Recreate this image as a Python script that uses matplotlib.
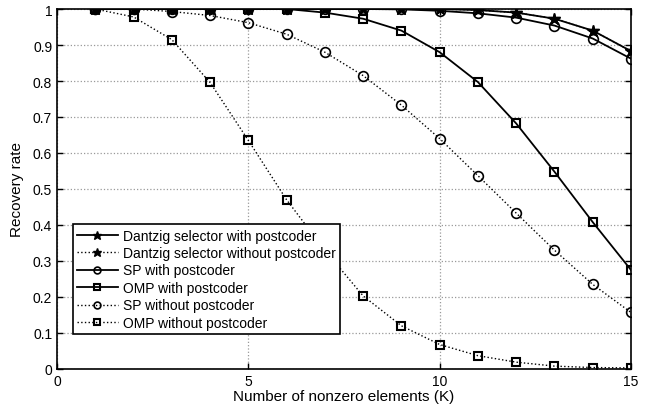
import matplotlib
matplotlib.use("Agg")
import matplotlib.pyplot as plt
import numpy as np

plt.rcParams['font.family'] = ['Liberation Sans', 'DejaVu Sans']

K = list(range(1, 16))
dantzig_with = [1, 1, 1, 1, 1, 1, 1, 1, 1, 1, 0.997, 0.99, 0.973, 0.94, 0.883]
dantzig_without = [1, 1, 1, 1, 1, 1, 1, 1, 1, 1, 0.997, 0.99, 0.973, 0.94, 0.883]
sp_with = [1, 1, 1, 1, 1, 1, 1, 1, 0.999, 0.995, 0.988, 0.976, 0.954, 0.918, 0.862]
omp_with = [1, 1, 1, 1, 1, 1, 0.99, 0.973, 0.94, 0.88, 0.797, 0.682, 0.548, 0.408, 0.275]
sp_without = [1, 1, 0.993, 0.982, 0.962, 0.93, 0.88, 0.815, 0.733, 0.64, 0.537, 0.433, 0.33, 0.235, 0.157]
omp_without = [1, 0.978, 0.915, 0.796, 0.635, 0.47, 0.33, 0.203, 0.12, 0.068, 0.037, 0.019, 0.008, 0.004, 0.003]

labels = ["Dantzig selector with postcoder", "Dantzig selector without postcoder",
          "SP with postcoder", "OMP with postcoder",
          "SP without postcoder", "OMP without postcoder"]

fig = plt.figure(figsize=(6.51, 4.14), dpi=100)
ax = fig.add_axes([57/651, 1-370/414, (631-57)/651, (370-10)/414])

lw = 1.3
ax.plot(K, dantzig_with, '-', color='k', lw=lw, marker='*', ms=9, mfc='k', mec='k', label=labels[0])
ax.plot(K, dantzig_without, ':', color='k', lw=1.0, marker='*', ms=9, mfc='k', mec='k', label=labels[1])
ax.plot(K, sp_with, '-', color='k', lw=lw, marker='o', ms=7, mfc='none', mec='k', mew=1.2, label=labels[2])
ax.plot(K, omp_with, '-', color='k', lw=lw, marker='s', ms=5.2, mfc='none', mec='k', mew=1.5, label=labels[3])
ax.plot(K, sp_without, ':', color='k', lw=1.0, marker='o', ms=7, mfc='none', mec='k', mew=1.2, label=labels[4])
ax.plot(K, omp_without, ':', color='k', lw=1.0, marker='s', ms=5.2, mfc='none', mec='k', mew=1.5, label=labels[5])

ax.set_xlim(0, 15)
ax.set_ylim(0, 1)
ax.set_xticks([0, 5, 10, 15])
ax.set_yticks(np.arange(0, 1.01, 0.1))
ax.set_yticklabels(['0'] + ['%.1f' % v for v in np.arange(0.1, 0.95, 0.1)] + ['1'])
ax.tick_params(direction='in', top=True, right=True, labelsize=10, length=4, width=1)
ax.grid(True, linestyle=':', color='#999999', lw=0.9)
for s in ax.spines.values():
    s.set_linewidth(1.2)
ax.set_xlabel('Number of nonzero elements (K)', fontsize=11, labelpad=1)
ax.set_ylabel('Recovery rate', fontsize=11, labelpad=6)

leg = ax.legend(loc='lower left', bbox_to_anchor=(0.028, 0.097), fontsize=10,
                fancybox=False, framealpha=1, edgecolor='k', handlelength=2.9,
                markerscale=0.7,
                borderpad=0.3, labelspacing=0.25, handletextpad=0.4, borderaxespad=0)
leg.get_frame().set_linewidth(1.2)
leg.set_zorder(10)

fig.savefig('out.png', dpi=100)
